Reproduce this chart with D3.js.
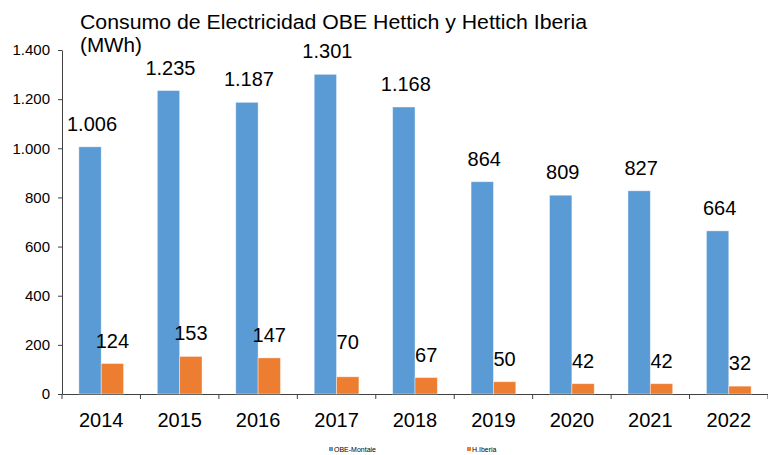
<!DOCTYPE html>
<html>
<head>
<meta charset="utf-8">
<script src="https://cdn.jsdelivr.net/npm/d3@7"></script>
<style>
  body { margin: 0; background: #fff; }
  text { font-family: "Liberation Sans", Arial, sans-serif; fill: #000; }
</style>
</head>
<body>
<div id="wrapper"></div>
<script>
const years = ["2014", "2015", "2016", "2017", "2018", "2019", "2020", "2021", "2022"]
const seriesNames = ["OBE-Montaie", "H.Iberia"]
const obeValues = [1006, 1235, 1187, 1301, 1168, 864, 809, 827, 664]
const iberiaValues = [124, 153, 147, 70, 67, 50, 42, 42, 32]
const yTicks = [0, 200, 400, 600, 800, 1000, 1200, 1400]
const colors = ["#5B9BD5", "#ED7D31"]

function drawChart() {
  const dimensions = {
    width: 768,
    height: 455,
    margin: { top: 50, right: 0, bottom: 61, left: 62 },
  }
  dimensions.boundedWidth = dimensions.width - dimensions.margin.left - dimensions.margin.right
  dimensions.boundedHeight = dimensions.height - dimensions.margin.top - dimensions.margin.bottom

  const rows = years.map((y, i) => ({ year: y, values: [obeValues[i], iberiaValues[i]] }))

  const xScale = d3.scaleBand()
      .domain(years)
      .range([0, dimensions.boundedWidth])

  const innerScale = d3.scaleBand()
      .domain(seriesNames)
      .range([xScale.bandwidth() * 0.215, xScale.bandwidth() * 0.785])

  const yScale = d3.scaleLinear()
      .domain([0, 1400])
      .range([dimensions.boundedHeight, 0])

  const locale = d3.formatLocale({ decimal: ",", thousands: ".", grouping: [3], currency: ["", ""] })
  const fmt = locale.format(",d")

  const svg = d3.select("#wrapper").append("svg")
      .attr("width", dimensions.width)
      .attr("height", dimensions.height)

  // title (original is a bit wider than the font)
  const title = svg.append("text")
      .attr("x", 80)
      .attr("y", 29)
      .style("font-size", "20px")
  title.append("tspan").attr("x", 80)
      .attr("textLength", 507).attr("lengthAdjust", "spacingAndGlyphs")
      .text("Consumo de Electricidad OBE Hettich y Hettich Iberia")
  title.append("tspan").attr("x", 80).attr("dy", 23)
      .attr("textLength", 62).attr("lengthAdjust", "spacingAndGlyphs")
      .text("(MWh)")

  const bounds = svg.append("g")
      .attr("transform", `translate(${dimensions.margin.left},${dimensions.margin.top})`)

  // y axis
  const yAxis = bounds.append("g")
      .call(d3.axisLeft(yScale).tickValues(yTicks).tickFormat(fmt).tickSize(4).tickSizeOuter(0).tickPadding(8))
  yAxis.selectAll("line, path").attr("stroke", "#404040")
  yAxis.selectAll("text").style("font-size", "15px").attr("fill", "#000")

  // x axis
  const xAxis = bounds.append("g")
      .attr("transform", `translate(0,${dimensions.boundedHeight})`)
      .call(d3.axisBottom(xScale).tickSize(0).tickSizeOuter(0).tickPadding(19))
  xAxis.select("path").attr("stroke", "#404040")
  xAxis.selectAll("text").style("font-size", "20px").attr("fill", "#000")
  xAxis.selectAll(".boundary")
    .data(d3.range(years.length + 1))
    .join("line")
      .attr("class", "boundary")
      .attr("x1", i => i * xScale.step())
      .attr("x2", i => i * xScale.step())
      .attr("y1", 0)
      .attr("y2", 5)
      .attr("stroke", "#404040")

  // bars
  const groups = bounds.selectAll(".year")
    .data(rows)
    .join("g")
      .attr("class", "year")
      .attr("transform", d => `translate(${xScale(d.year)},0)`)

  const cells = groups.selectAll(".bar")
    .data(d => d.values.map((v, i) => ({ year: d.year, series: seriesNames[i], value: v, idx: i })))
    .join("g")
      .attr("class", "bar")

  cells.append("rect")
      .attr("x", d => innerScale(d.series))
      .attr("y", d => yScale(d.value))
      .attr("width", innerScale.bandwidth())
      .attr("height", d => dimensions.boundedHeight - yScale(d.value))
      .attr("fill", d => colors[d.idx])
      .attr("stroke", "rgba(255,255,255,0.5)")
      .attr("stroke-width", 0.8)

  // 2017 Iberia label was dragged up in the original
  const nudge = d => (d.year === "2017" && d.idx === 1) ? -12 : 0

  cells.append("text")
      .attr("x", d => innerScale(d.series) + innerScale.bandwidth() / 2 + (d.idx === 0 ? 2 : 0))
      .attr("y", d => yScale(d.value) - 16 + nudge(d))
      .attr("text-anchor", "middle")
      .style("font-size", "20px")
      .text(d => fmt(d.value))

  // legend
  const legend = svg.append("g")
      .attr("transform", "translate(0,452)")
  const legendX = [329, 467]
  seriesNames.forEach((name, i) => {
    legend.append("rect")
        .attr("x", legendX[i])
        .attr("y", -5)
        .attr("width", 4)
        .attr("height", 4)
        .attr("fill", colors[i])
    legend.append("text")
        .attr("x", legendX[i] + 5)
        .attr("y", 0)
        .style("font-size", "7px")
        .attr("fill", "#404040")
        .text(name)
  })
}

drawChart()
</script>
</body>
</html>
